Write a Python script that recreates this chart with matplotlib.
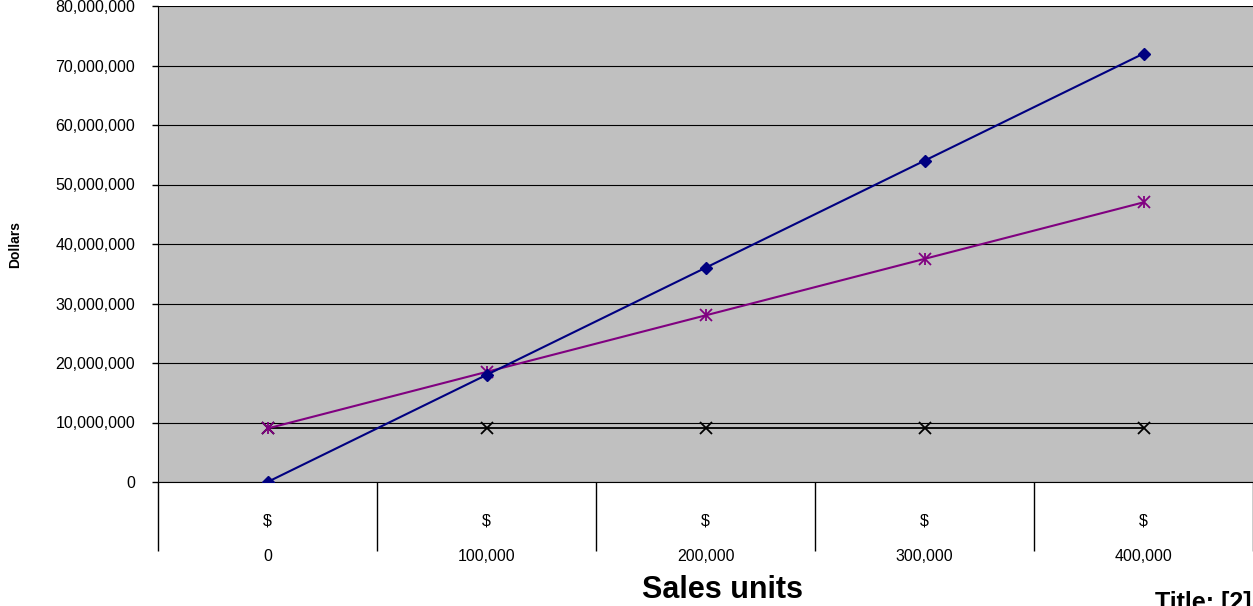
import matplotlib
matplotlib.use("Agg")
import matplotlib.pyplot as plt
import numpy as np

plt.rcParams['font.family'] = ['Liberation Sans', 'DejaVu Sans']

categories = ["0", "100,000", "200,000", "300,000", "400,000"]
revenue = [0, 18_000_000, 36_000_000, 54_000_000, 72_000_000]
total_cost = [9_000_000, 18_500_000, 28_000_000, 37_500_000, 47_000_000]
fixed_cost = [9_000_000, 9_000_000, 9_000_000, 9_000_000, 9_000_000]
y_ticks = [0, 10_000_000, 20_000_000, 30_000_000, 40_000_000, 50_000_000, 60_000_000, 70_000_000, 80_000_000]

W, H = 1253, 606
fig = plt.figure(figsize=(W / 100, H / 100), dpi=100)
ax = fig.add_axes([158 / W, 1 - 482 / H, (W - 158) / W, (482 - 6) / H])
ax.set_facecolor('#C0C0C0')

x = np.arange(len(categories))
ax.plot(x, fixed_cost, color='black', lw=1.3, marker='x', ms=8, mew=1.3, zorder=3)
ax.plot(x, total_cost, color='#800080', lw=1.5, marker='x', ms=8, mew=1.3, zorder=4)
ax.plot(x, total_cost, color='#800080', lw=0, marker='|', ms=9, mew=1.3, zorder=4)
ax.plot(x, revenue, color='#000080', lw=1.5, marker='D', ms=6.5, zorder=5)

ax.set_ylim(0, 80_000_000)
ax.set_xlim(-0.5, -0.5 + (W - 158) / 221)
ax.set_yticks(y_ticks)
ax.set_yticklabels([f"{v:,}" for v in y_ticks], fontsize=11.5)
ax.yaxis.grid(True, color='black', lw=0.8)
ax.set_axisbelow(True)
ax.tick_params(axis='y', length=4.3, width=1, pad=12, color='black')

ax.set_xticks(x)
ax.set_xticklabels(["$\n\n" + c for c in categories], fontsize=11.5, linespacing=1.22)
ax.set_xticks(np.arange(-0.5, len(categories), 1.0), minor=True)
ax.tick_params(axis='x', which='major', length=0, pad=23)
ax.tick_params(axis='x', which='minor', length=50, width=1, color='black')

for s in ['top', 'right']:
    ax.spines[s].set_visible(False)
ax.spines['left'].set_color('black')
ax.spines['bottom'].set_color('black')

ax.set_ylabel("Dollars", fontsize=10, fontweight='bold')
ax.yaxis.set_label_coords(-(158 - 22) / (W - 158), 0.5)

fig.text(722 / W, 1 - 590 / H, "Sales units", fontsize=22, fontweight='bold', ha='center', va='center')
fig.text(1155 / W, 1 - 610 / H, "Title: [2]", fontsize=18, fontweight='bold', ha='left', va='baseline')
fig.text(1008 / W, 1 + 7 / H, "Break-Even Chart Summary", fontsize=20, fontweight='bold', ha='right', va='baseline')

fig.savefig("out.png", dpi=100)
